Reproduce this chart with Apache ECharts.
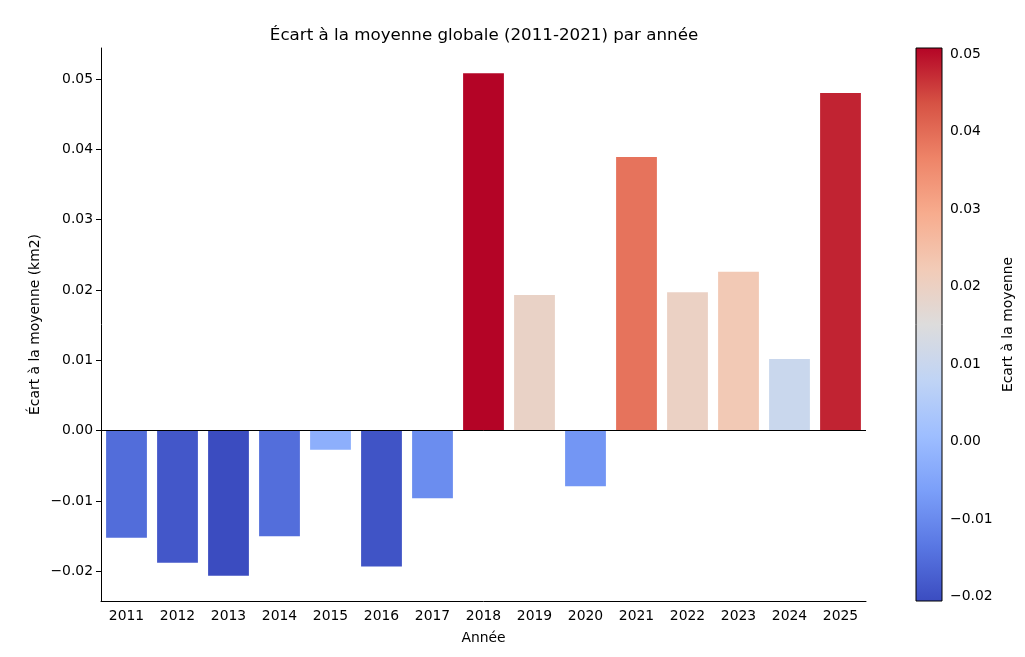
<!DOCTYPE html>
<html><head><meta charset="utf-8">
<script src="https://cdn.jsdelivr.net/npm/echarts@6/dist/echarts.min.js"></script>
<style>html,body{margin:0;padding:0;background:#fff}#c{width:1025px;height:657px}</style>
</head><body><div id="c"></div>
<script>
const categories = ['2011','2012','2013','2014','2015','2016','2017','2018','2019','2020','2021','2022','2023','2024','2025'];
const values = [-0.0152,-0.01875,-0.0206,-0.0150,-0.0027,-0.0193,-0.0096,0.0508,0.0193,-0.0079,0.0389,0.0197,0.0226,0.0102,0.0480];
const yTicks = [-0.02,-0.01,0,0.01,0.02,0.03,0.04,0.05];
const cbTicks = [-0.02,-0.01,0,0.01,0.02,0.03,0.04,0.05];
const coolwarm = ['#3b4cc0','#5977e3','#7b9ff9','#9ebeff','#c0d4f5','#dddcdc','#f2cbb7','#f7ac8e','#ee8468','#d65244','#b40426'];

const vMin = Math.min(...values), vMax = Math.max(...values);
const fmt = v => v.toFixed(2).replace('-', '\u2212');
const font = 'DejaVu Sans';
const fs = 13.9;
const chart = echarts.init(document.getElementById('c'));
const cb = {left:916, top:48, width:26, height:553};
chart.setOption({
  animation:false,
  backgroundColor:'#fff',
  textStyle:{fontFamily:font},
  title:{text:'Écart à la moyenne globale (2011-2021) par année', left:479, top:22, textAlign:'center',
    textStyle:{fontFamily:font, fontSize:16.7, fontWeight:'normal', color:'#000'}},
  grid:[
    {left:101, right:159, top:48, bottom:56},
    {left:cb.left, top:cb.top, width:cb.width, height:cb.height}
  ],
  xAxis:[
    {type:'category', data:categories, gridIndex:0, name:'Année', nameLocation:'middle', nameGap:30,
     nameTextStyle:{fontFamily:font, fontSize:fs, color:'#000'},
     axisLine:{onZero:false, lineStyle:{color:'#000', width:1}},
     axisTick:{alignWithLabel:true, length:5, lineStyle:{color:'#000'}},
     axisLabel:{fontFamily:font, fontSize:fs, color:'#000', margin:8}},
    {type:'value', gridIndex:1, show:false, min:0, max:1}
  ],
  yAxis:[
    {type:'value', gridIndex:0, min:-0.0242, max:0.0544,
     name:'Écart à la moyenne (km2)', nameLocation:'middle', nameGap:59, nameRotate:90, nameMoveOverlap:false,
     nameTextStyle:{fontFamily:font, fontSize:fs, color:'#000'},
     axisLine:{show:true, lineStyle:{color:'#000', width:1}},
     axisTick:{show:true, length:5, lineStyle:{color:'#000'}, customValues:yTicks},
     axisLabel:{fontFamily:font, fontSize:fs, color:'#000', margin:8, customValues:yTicks, formatter:fmt},
     splitLine:{show:false}},
    {type:'value', gridIndex:1, position:'right', min:vMin, max:vMax,
     name:'Ecart à la moyenne', nameLocation:'middle', nameGap:59, nameRotate:90,
     nameTextStyle:{fontFamily:font, fontSize:fs, color:'#000'},
     axisLine:{show:false},
     axisTick:{show:true, length:5, lineStyle:{color:'#000'}, customValues:cbTicks},
     axisLabel:{fontFamily:font, fontSize:fs, color:'#000', margin:8, customValues:cbTicks, formatter:fmt},
     splitLine:{show:false}}
  ],
  visualMap:{show:false, type:'continuous', min:vMin, max:vMax, dimension:1, seriesIndex:0,
    inRange:{color:coolwarm}},
  series:[
    {type:'bar', xAxisIndex:0, yAxisIndex:0, data:values, barCategoryGap:'20%',
     markLine:{silent:true, symbol:'none', label:{show:false},
       lineStyle:{color:'#000', width:1, type:'solid'}, data:[{yAxis:0}]}}
  ],
  graphic:[
    {type:'rect', shape:{x:cb.left, y:cb.top, width:cb.width, height:cb.height}, z:10,
     style:{fill:new echarts.graphic.LinearGradient(0,1,0,0,
        coolwarm.map((c,i)=>({offset:i/(coolwarm.length-1), color:c}))),
        stroke:'#000', lineWidth:1}}
  ]
});
</script></body></html>
